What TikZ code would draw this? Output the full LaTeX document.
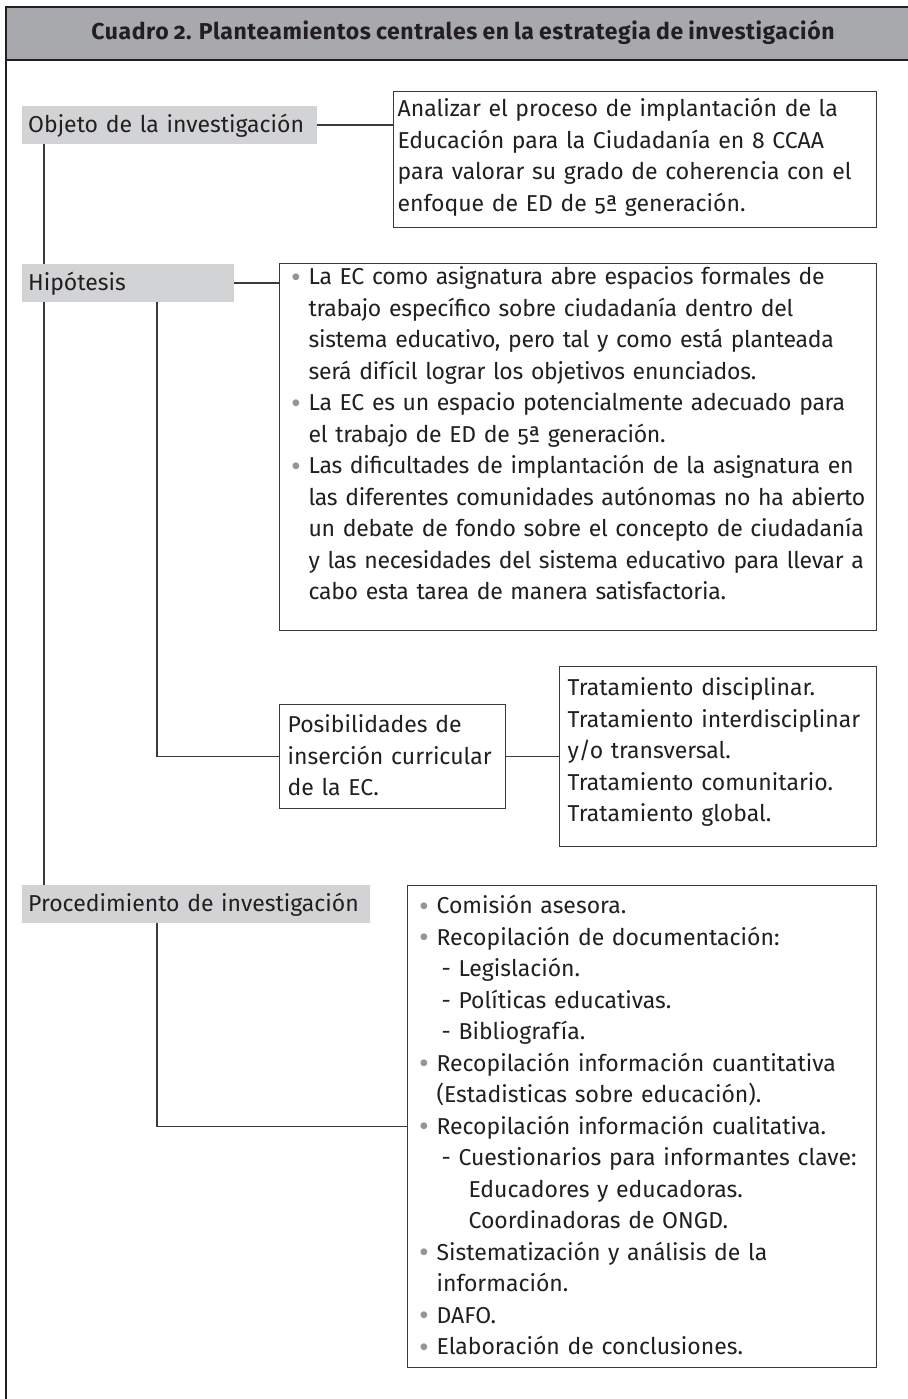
\documentclass[tikz,border=0pt]{standalone}
\usepackage{fontspec}
\setmainfont{Fira Sans}[Numbers=OldStyle,WordSpace=0.85]
\setlength{\parindent}{0pt}
\definecolor{tinta}{HTML}{231F20}
\definecolor{cabecera}{HTML}{A7A9AC}
\definecolor{etiqueta}{HTML}{D1D3D4}
\definecolor{vinieta}{HTML}{939598}
\definecolor{borde}{HTML}{3A3A3C}
\newcommand{\arriba}[1]{\rule{0pt}{#1pt}}
\newcommand{\abajo}[1]{\rule[-#1pt]{0pt}{#1pt}}
\newcommand{\punto}[1]{\makebox[25pt][c]{\textcolor{vinieta}{\fontsize{30}{30}\selectfont\raisebox{-2.5pt}{•}}}\mbox{#1}}
\newcommand{\sigue}[1]{\hspace*{25pt}\mbox{#1}}
\newcommand{\guion}[1]{\hspace*{30pt}\mbox{- #1}}
\begin{document}
\begin{tikzpicture}[x=1pt,y=-1pt,
  every node/.style={text=tinta, font=\fontsize{23}{31.5}\selectfont},
  marco/.style={draw=tinta, line width=1.7pt},
  linea/.style={draw=borde, line width=1.2pt},
  tema/.style={fill=etiqueta, anchor=north west, inner xsep=6pt, inner ysep=0pt, text height=26pt, text depth=11.5pt, text width=#1, align=left},
  caja/.style={draw=borde, line width=1.2pt, fill=white, anchor=north west, inner ysep=0pt, align=left}]
\useasboundingbox (0,0) rectangle (907,1399);
\fill[cabecera] (6,7) rectangle (930,60);
\draw[marco] (930,7) -- (6,7) -- (6,1420);
\draw[marco] (6,60) -- (930,60);
\node[font=\fontsize{23}{26}\selectfont\bfseries\addfontfeatures{LetterSpace=2.5}, anchor=base] (titulo) at (463,40) {Cuadro 2. Planteamientos centrales en la estrategia de investigación};
\coordinate (eje) at (44,0);
\coordinate (rama) at (157,0);
\node[tema=283pt] (objeto) at (22,106) {\mbox{Objeto de la investigación}};
\node[tema=200pt] (hipotesis) at (22,264) {\mbox{Hipótesis}};
\node[tema=336pt] (procedimiento) at (22,885) {\mbox{Procedimiento de investigación}};
\node[caja, text width=475pt, inner xsep=4pt] (objetivo) at (393,91) {\arriba{25}Analizar el proceso de implantación de la\\
Educación para la Ciudadanía en 8 CCAA\\
para valorar su grado de coherencia con el\\
enfoque de ED de 5ª generación.\abajo{16.5}};
\node[caja, text width=589pt, inner xsep=4pt, font=\fontsize{23}{31.5}\selectfont\addfontfeatures{LetterSpace=-1.2}] (supuestos) at (279,263) {\arriba{21}\punto{La EC como asignatura abre espacios formales de}\\
\sigue{trabajo específico sobre ciudadanía dentro del}\\
\sigue{sistema educativo, pero tal y como está planteada}\\
\sigue{será difícil lograr los objetivos enunciados.}\\
\punto{La EC es un espacio potencialmente adecuado para}\\
\sigue{el trabajo de ED de 5ª generación.}\\
\punto{Las dificultades de implantación de la asignatura en}\\
\sigue{las diferentes comunidades autónomas no ha abierto}\\
\sigue{un debate de fondo sobre el concepto de ciudadanía}\\
\sigue{y las necesidades del sistema educativo para llevar a}\\
\sigue{cabo esta tarea de manera satisfactoria.}\abajo{31}};
\node[caja, text width=210pt, inner xsep=8pt] (insercion) at (279,704) {\arriba{28}Posibilidades de\\
\mbox{inserción curricular}\\
de la EC.\abajo{13}};
\node[caja, text width=301pt, inner xsep=8pt] (tratamiento) at (559,666) {\arriba{29}Tratamiento disciplinar.\\
\mbox{Tratamiento interdisciplinar}\\
y/o transversal.\\
Tratamiento comunitario.\\
Tratamiento global.\abajo{25}};
\node[caja, text width=461pt, inner xsep=4pt] (pasos) at (407,885) {\arriba{28}\punto{Comisión asesora.}\\
\punto{Recopilación de documentación:}\\
\guion{Legislación.}\\
\guion{Políticas educativas.}\\
\guion{Bibliografía.}\\
\punto{Recopilación información cuantitativa}\\
\sigue{(Estadisticas sobre educación).}\\
\punto{Recopilación información cualitativa.}\\
\guion{Cuestionarios para informantes clave:}\\
\hspace*{57pt}Educadores y educadoras.\\
\hspace*{57pt}Coordinadoras de ONGD.\\
\punto{Sistematización y análisis de la}\\
\sigue{información.}\\
\punto{DAFO.}\\
\punto{Elaboración de conclusiones.}\abajo{13}};
\draw[linea] (objeto.east) -- (objeto.east -| objetivo.west);
\draw[linea] (hipotesis.east) -- (hipotesis.east -| supuestos.west);
\draw[linea] (objeto.south -| eje) -- (hipotesis.north -| eje);
\draw[linea] (hipotesis.south -| eje) -- (procedimiento.north -| eje);
\draw[linea] (hipotesis.south -| rama) |- (insercion.west);
\draw[linea] (insercion.east) -- (tratamiento.west |- insercion.east);
\draw[linea] (procedimiento.south -| rama) |- (pasos.west);
\end{tikzpicture}
\end{document}
